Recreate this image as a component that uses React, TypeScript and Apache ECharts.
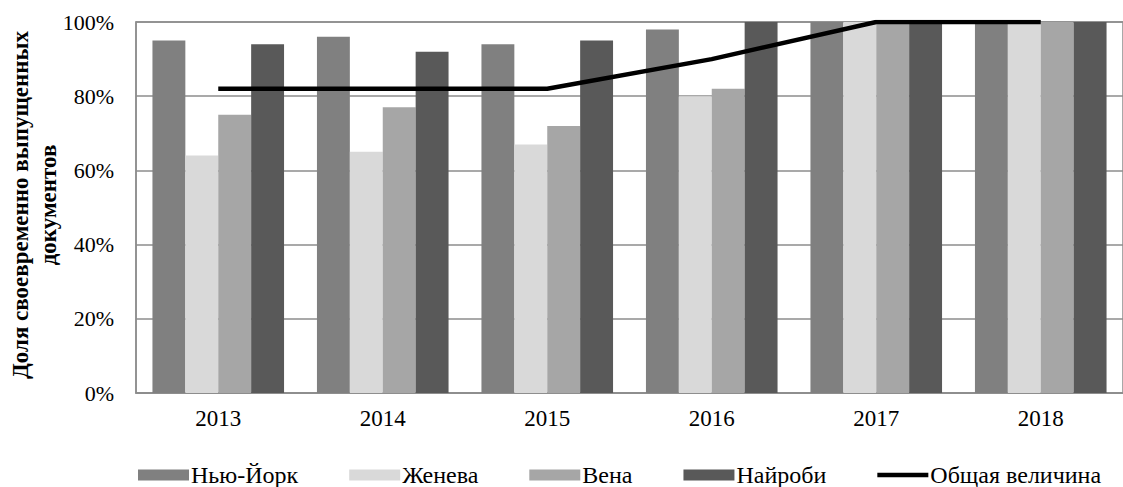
import React, { useEffect, useRef } from "react";
import * as echarts from "echarts";

const years = ["2013", "2014", "2015", "2016", "2017", "2018"];
const newYork = [95, 96, 94, 98, 100, 100];
const geneva = [64, 65, 67, 80, 100, 100];
const vienna = [75, 77, 72, 82, 100, 100];
const nairobi = [94, 92, 95, 100, 100, 100];
const total = [82, 82, 82, 90, 100, 100];
const yTicks = [0, 20, 40, 60, 80, 100];

const FONT = "'Liberation Serif', 'Times New Roman', serif";

export default function App() {
  const ref = useRef<HTMLDivElement>(null);
  useEffect(() => {
    if (!ref.current) return;
    const chart = echarts.init(ref.current, null, { renderer: "svg" });
    const barSeries = (name: string, data: number[], color: string) => ({
      name,
      type: "bar",
      data,
      barGap: "0%",
      barCategoryGap: "20%",
      itemStyle: { color },
      z: 2,
    });
    chart.setOption({
      animation: false,
      backgroundColor: "#fff",
      textStyle: { fontFamily: FONT },
      grid: { left: 136, top: 22, width: 999, height: 371, show: true, borderColor: "#8c8c8c", borderWidth: 1.5 },
      xAxis: {
        type: "category",
        data: years,
        axisLine: { lineStyle: { color: "#8c8c8c", width: 1.5 } },
        axisTick: { show: false },
        axisLabel: { color: "#000", fontSize: 23, fontFamily: FONT, margin: 14 },
      },
      yAxis: {
        type: "value",
        min: 0,
        max: 100,
        interval: 20,
        axisLine: { show: true, lineStyle: { color: "#8c8c8c", width: 1.5 } },
        axisTick: { show: false },
        splitLine: { lineStyle: { color: "#8c8c8c", width: 1.5 } },
        axisLabel: {
          color: "#000",
          fontSize: 22,
          fontFamily: FONT,
          margin: 22,
          formatter: (v: number) => (yTicks.includes(v) ? v + "%" : ""),
        },
      },
      legend: {
        left: 133,
        top: 458,
        itemWidth: 51,
        itemHeight: 11,
        itemGap: 51,
        textStyle: { color: "#000", fontSize: 24, fontFamily: FONT, padding: [0, 0, 0, -3] },
        data: [
          { name: "Нью-Йорк", icon: "rect" },
          { name: "Женева", icon: "rect" },
          { name: "Вена", icon: "rect" },
          { name: "Найроби", icon: "rect" },
          { name: "Общая величина", icon: "path://M0,0 L51,0 L51,4.5 L0,4.5 Z", itemStyle: { color: "#000" } },
        ],
      },
      graphic: [
        {
          type: "text",
          x: 34,
          y: 205,
          rotation: Math.PI / 2,
          style: {
            text: "Доля своевременно выпущенных\nдокументов",
            font: `bold 23px ${FONT}`,
            fill: "#000",
            align: "center",
            verticalAlign: "middle",
            lineHeight: 28,
          },
        },
      ],
      series: [
        barSeries("Нью-Йорк", newYork, "#808080"),
        barSeries("Женева", geneva, "#d9d9d9"),
        barSeries("Вена", vienna, "#a6a6a6"),
        barSeries("Найроби", nairobi, "#595959"),
        {
          name: "Общая величина",
          type: "line",
          data: total,
          symbol: "none",
          z: 5,
          lineStyle: { color: "#000", width: 4.5 },
          itemStyle: { color: "#000" },
          label: {
            show: true,
            position: "bottom",
            distance: 5,
            formatter: (p: any) => p.value + "%",
            color: "#000",
            fontSize: 21,
            fontWeight: "bold",
            fontFamily: FONT,
          },
        },
      ],
    });
    return () => chart.dispose();
  }, []);
  return <div ref={ref} style={{ position: "fixed", left: 0, top: 0, width: 1123, height: 487 }} />;
}
